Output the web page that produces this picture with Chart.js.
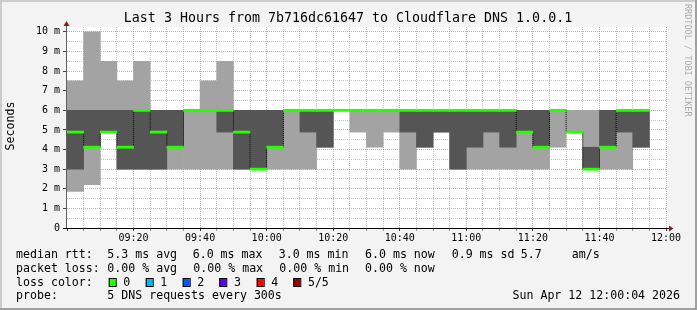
<!DOCTYPE html>
<html>
<head>
<meta charset="utf-8">
<script src="https://cdn.jsdelivr.net/npm/chart.js@4.4.1/dist/chart.umd.min.js"></script>
<style>
  html, body { margin: 0; padding: 0; background: #f3f3f3; }
  canvas { display: block; }
</style>
</head>
<body>
<canvas id="grafico" width="697" height="310"></canvas>
<script>
// Bins de 5 minutos (inicio de cada bin)
const binTimes = ['09:00','09:05','09:10','09:15','09:20','09:25','09:30','09:35','09:40','09:45',
                  '09:50','09:55','10:00','10:05','10:10','10:15','10:20','10:25','10:30','10:35',
                  '10:40','10:45','10:50','10:55','11:00','11:05','11:10','11:15','11:20','11:25',
                  '11:30','11:35','11:40','11:45','11:50'];

// 5 pings ordenados por bin (ms)
const ping1 = [1.87, 2.21, 4.89, 3, 3, 3, 3, 3, 3, 3,
               3, 3, 3, 3, 3, 4.12, 6, 4.89, 4.12, 4.89,
               3, 4.12, 4.89, 3, 3, 3, 3, 3, 3, 4.12,
               4.89, 3, 3, 3, 4.12];
const ping2 = [3, 4.12, 4.89, 3, 3, 3, 4.12, 6, 6, 4.89,
               3, 3, 4.12, 6, 4.89, 4.12, 6, 6, 6, 6,
               4.89, 4.12, 4.89, 3, 4.12, 4.89, 4.12, 4.89, 4.12, 6,
               4.89, 3, 4.12, 4.89, 4.12];
const medianRtt = [4.89, 4.12, 4.89, 4.12, 6, 4.89, 4.12, 6, 6, 6,
                   4.89, 3, 4.12, 6, 6, 6, 6, 6, 6, 6,
                   6, 6, 6, 6, 6, 6, 6, 4.89, 4.12, 6,
                   4.89, 3, 4.12, 6, 6];
const ping4 = [6, 6, 6, 6, 6, 6, 6, 6, 6, 6,
               6, 6, 6, 6, 6, 6, 6, 6, 6, 6,
               6, 6, 6, 6, 6, 6, 6, 6, 6, 6,
               4.89, 4.12, 6, 6, 6];
const ping5 = [7.5, 10, 8.5, 7.5, 8.5, 6, 6, 6, 7.5, 8.5,
               6, 6, 6, 6, 6, 6, 6, 6, 6, 6,
               6, 6, 6, 6, 6, 6, 6, 6, 6, 6,
               6, 6, 6, 6, 6];

// Eixos
const startTime = '09:00';
const xTickLabels = ['09:20','09:40','10:00','10:20','10:40','11:00','11:20','11:40','12:00'];
const yTickLabels = ['0','1 m','2 m','3 m','4 m','5 m','6 m','7 m','8 m','9 m','10 m'];

// Cores de perda
const lossLabels = ['0', '1', '2', '3', '4', '5/5'];
const lossColors = ['#26ff00', '#00b8ff', '#0059ff', '#5e00ff', '#ff0000', '#a10000'];

const toMin = t => { const p = t.split(':'); return (+p[0]) * 60 + (+p[1]); };
const t0 = toMin(startTime);
const binMin = binTimes.map(t => toMin(t) - t0 + 2.5);   // centro do bin
const xTickMap = {};
xTickLabels.forEach(l => { xTickMap[toMin(l) - t0] = l; });

const MONO = "'DejaVu Sans Mono', monospace";
const gridMajor = 'rgba(240,60,60,0.5)';
const gridMinor = '#c6c6c6';
const NONE = 'rgba(0,0,0,0)';
const tv = c => (c && c.tick) ? c.tick.value : null;

const smokePing = {
    id: 'smokePing',
    beforeDraw(chart) {
        const c = chart.ctx, a = chart.chartArea;
        c.save();
        c.fillStyle = '#f3f3f3';
        c.fillRect(0, 0, chart.width, chart.height);
        c.fillStyle = '#ffffff';
        c.fillRect(a.left, a.top, a.right - a.left + 2, a.bottom - a.top);
        c.restore();
    },
    afterDatasetsDraw(chart) {
        const c = chart.ctx, a = chart.chartArea;
        c.save();
        // eixos
        c.lineWidth = 1;
        c.strokeStyle = '#606060';
        c.beginPath();
        c.moveTo(a.left - 0.5, a.bottom + 0.5);
        c.lineTo(a.left - 0.5, a.top - 1);
        c.stroke();
        c.strokeStyle = '#000';
        c.beginPath();
        c.moveTo(a.left - 4, a.bottom + 0.5);
        c.lineTo(a.right + 3, a.bottom + 0.5);
        c.stroke();
        c.fillStyle = '#8b1a1a';
        c.beginPath();
        c.moveTo(a.left - 0.5, a.top - 6);
        c.lineTo(a.left - 3.5, a.top - 1);
        c.lineTo(a.left + 2.5, a.top - 1);
        c.closePath();
        c.fill();
        c.beginPath();
        c.moveTo(a.right + 7.5, a.bottom + 0.5);
        c.lineTo(a.right + 3, a.bottom - 2.5);
        c.lineTo(a.right + 3, a.bottom + 3.5);
        c.closePath();
        c.fill();
        c.restore();
    },
    afterDraw(chart) {
        const c = chart.ctx;
        c.save();
        c.fillStyle = '#000';
        c.textBaseline = 'middle';

        // titulo
        c.font = '13.3px ' + MONO;
        c.textAlign = 'center';
        c.fillText('Last 3 Hours from 7b716dc61647 to Cloudflare DNS 1.0.0.1', 348, 19);

        // titulo do eixo Y
        c.save();
        c.translate(10.5, 126);
        c.rotate(-Math.PI / 2);
        c.font = '11.6px ' + MONO;
        c.fillText('Seconds', 0, 0);
        c.restore();

        // marca d'agua
        c.save();
        c.translate(687.5, 4);
        c.rotate(Math.PI / 2);
        c.textAlign = 'left';
        c.fillStyle = '#ababab';
        c.font = '8.5px ' + MONO;
        c.fillText('RRDTOOL / TOBI OETIKER', 0, 0);
        c.restore();

        // legenda
        c.font = '11.6px ' + MONO;
        c.textAlign = 'left';
        const rows = [
            [255, [[16, 'median rtt:'], [107.3, '5.3 ms avg'], [192.7, '6.0 ms max'], [278.7, '3.0 ms min'],
                   [365, '6.0 ms now'], [451.7, '0.9 ms sd'], [520.7, '5.7'], [571.7, 'am/s']]],
            [268.5, [[16, 'packet loss:'], [107.3, '0.00 % avg'], [193.3, '0.00 % max'], [279.3, '0.00 % min'],
                     [365, '0.00 % now']]],
            [282.5, [[16, 'loss color:']]],
            [296, [[16, 'probe:'], [107.3, '5 DNS requests every 300s']]]
        ];
        rows.forEach(([y, items]) => items.forEach(([x, s]) => c.fillText(s, x, y)));

        const swX = [108.7, 145.7, 182.7, 219.3, 256.7, 293.3];
        lossLabels.forEach((l, i) => {
            c.fillStyle = lossColors[i];
            c.fillRect(swX[i], 278, 7, 9);
            c.strokeStyle = '#000';
            c.lineWidth = 1;
            c.strokeRect(swX[i] + 0.5, 278.5, 7, 8);
            c.fillStyle = '#000';
            c.fillText(l, swX[i] + 14.6, 282.5);
        });

        c.textAlign = 'right';
        c.fillText('Sun Apr 12 12:00:04 2026', 680, 296);

        // moldura
        c.fillStyle = '#cccccc';
        c.fillRect(0, 0, chart.width, 2);
        c.fillRect(0, 0, 2, chart.height);
        c.fillStyle = '#a0a0a0';
        c.fillRect(0, chart.height - 2, chart.width, 2);
        c.fillRect(chart.width - 2, 0, 2, chart.height);
        c.restore();
    }
};

const ctx = document.getElementById('grafico').getContext('2d');
const grafico = new Chart(ctx, {
    type: 'bar',
    data: {
        datasets: [{
            // mediana (linha verde)
            data: binMin.map((x, i) => ({ x: x, y: [medianRtt[i] - 0.055, medianRtt[i] + 0.055] })),
            backgroundColor: lossColors[0],
            grouped: false,
            barPercentage: 1,
            categoryPercentage: 1,
            order: 0
        }, {
            // conectores verticais da mediana
            type: 'line',
            data: binMin.map((x, i) => ({ x: x, y: medianRtt[i] })),
            stepped: 'middle',
            borderColor: '#000',
            borderWidth: 1,
            borderDash: [1, 1],
            pointRadius: 0,
            fill: false,
            order: 1
        }, {
            // fumaca escura (ping2..ping4)
            data: binMin.map((x, i) => ({ x: x, y: [ping2[i], ping4[i]] })),
            backgroundColor: '#555555',
            grouped: false,
            barPercentage: 1,
            categoryPercentage: 1,
            order: 2
        }, {
            // fumaca clara (ping1..ping5)
            data: binMin.map((x, i) => ({ x: x, y: [ping1[i], ping5[i]] })),
            backgroundColor: '#a3a3a3',
            grouped: false,
            barPercentage: 1,
            categoryPercentage: 1,
            order: 3
        }]
    },
    options: {
        responsive: false,
        animation: false,
        devicePixelRatio: 1,
        layout: { padding: { left: 0, right: 31, top: 27, bottom: 0 } },
        plugins: { legend: { display: false }, tooltip: { enabled: false } },
        scales: {
            x: {
                type: 'linear',
                min: 0,
                max: 180,
                offset: false,
                afterFit: s => { s.height = 82; },
                border: { display: false, dash: [1, 1] },
                grid: {
                    offset: false,
                    color: c => {
                        const v = tv(c);
                        if (v === null || v === 0) return NONE;
                        return v % 20 === 0 ? gridMajor : gridMinor;
                    },
                    tickColor: c => {
                        const v = tv(c);
                        if (v === null) return NONE;
                        return v % 20 === 0 ? '#444' : '#999';
                    },
                    tickLength: 3
                },
                ticks: {
                    stepSize: 5,
                    autoSkip: false,
                    maxRotation: 0,
                    padding: 1,
                    color: '#000',
                    font: { family: MONO, size: 10 },
                    callback: v => xTickMap[v] || ''
                }
            },
            y: {
                min: 0,
                max: 10.25,
                afterFit: s => { s.width = 67; },
                border: { display: false, dash: [1, 1] },
                grid: {
                    color: c => {
                        const v = tv(c);
                        if (v === null || v === 0 || v > 10) return NONE;
                        return Number.isInteger(v) ? gridMajor : gridMinor;
                    },
                    tickColor: c => {
                        const v = tv(c);
                        return (v !== null && Number.isInteger(v)) ? '#444' : NONE;
                    },
                    tickLength: 4
                },
                ticks: {
                    stepSize: 0.5,
                    includeBounds: false,
                    autoSkip: false,
                    padding: 3,
                    color: '#000',
                    font: { family: MONO, size: 10 },
                    callback: v => Number.isInteger(v) ? yTickLabels[v] : ''
                }
            }
        }
    },
    plugins: [smokePing]
});
</script>
</body>
</html>
